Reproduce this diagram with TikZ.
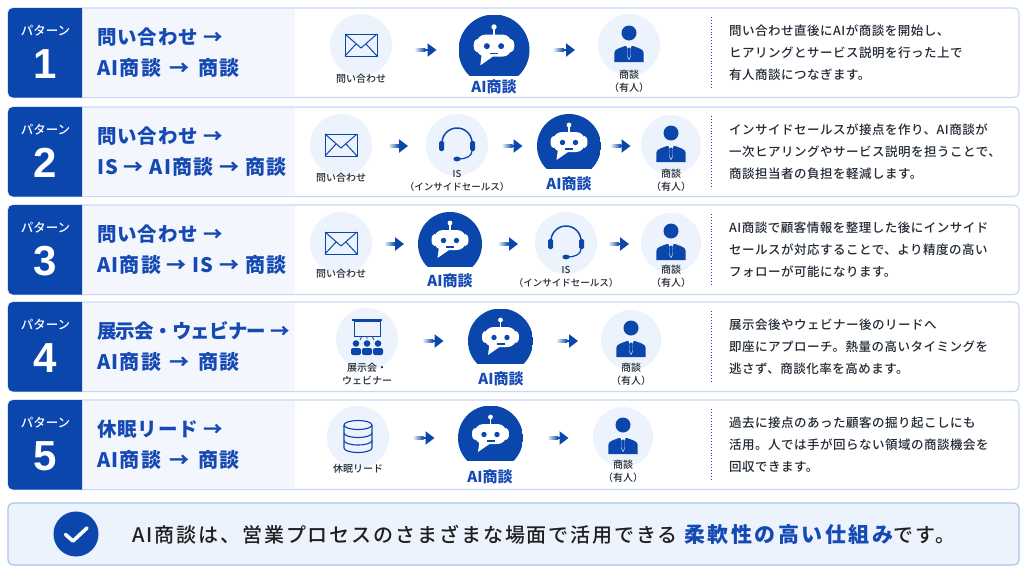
\documentclass[tikz,border=0pt]{standalone}
\usepackage{fontspec}
\setmainfont{Noto Sans CJK JP}
\newfontfamily\medfont{Noto Sans CJK JP Medium}
\newfontfamily\numfont{Liberation Sans}
\usetikzlibrary{arrows.meta}
\definecolor{tabblue}{HTML}{0A46AC}
\definecolor{titleblue}{HTML}{1549B3}
\definecolor{iconfill}{HTML}{EDF3FC}
\definecolor{zonefill}{HTML}{F3F7FD}
\definecolor{edgeblue}{HTML}{C6DAF6}
\definecolor{inkgray}{HTML}{222A35}
\newcommand{\fsize}[2]{\fontsize{#1}{#2}\selectfont}
\newcommand{\arrowgap}{\hspace{3pt}}
\tikzset{
  panel/.style={draw=edgeblue, fill=white, line width=1.2, rounded corners=5},
  iconbg/.style={circle, fill=iconfill, minimum size=62, inner sep=0, outer sep=0},
  botdisc/.style={circle, minimum size=#1, inner sep=0, outer sep=0, path picture={
    \fill[tabblue] (path picture bounding box.north west) rectangle ([yshift=-#1*0.36]path picture bounding box.east);}},
  flow/.style={line width=2.4, tabblue, -{Triangle[length=9,width=13]}, shorten <=#1, shorten >=#1},
  tailfade/.style={rectangle, left color=white, right color=tabblue, minimum width=11, minimum height=3, inner sep=0, outer sep=0, anchor=east},
  tabhead/.style={white, font=\fsize{12.5}{14}\medfont},
  tabnum/.style={white, font=\numfont\fsize{42}{44}\bfseries},
  titletext/.style={titleblue, anchor=west, inner sep=0, font=\fsize{19.5}{22}\bfseries\addfontfeature{LetterSpace=4}},
  routetext/.style={titletext, font=\fsize{20}{22}\bfseries\addfontfeature{LetterSpace=6}},
  desctext/.style={inkgray, anchor=west, inner sep=0, font=\medfont\fsize{12.5}{15}\addfontfeature{LetterSpace=4}},
  iconlabel/.style={inkgray, align=center, font=\medfont\fsize{10}{13}},
  botlabel/.style={titleblue, font=\fsize{15}{18}\bfseries},
  pics/mailicon/.style={code={
    \draw[tabblue, line width=1, line join=round] (-16,-11) rectangle (16,11);
    \draw[tabblue, line width=1, line join=round] (-16,-11) -- (0,3) -- (16,-11);
    \draw[tabblue, line width=1] (-16,11) -- (-5,-1) (16,11) -- (5,-1);
  }},
  pics/manicon/.style={code={
    \fill[tabblue] (0,-12) circle [radius=7.5];
    \fill[tabblue] (-14.7,17) -- (-14.7,8) .. controls (-14.7,4) and (-9,3) .. (-4,1) -- (4,1) .. controls (9,3) and (14.7,4) .. (14.7,8) -- (14.7,17) -- cycle;
    \fill[white] (-2.6,1) -- (2.6,1) -- (1.2,4) -- (1.6,12) -- (0,15) -- (-1.6,12) -- (-1.2,4) -- cycle;
    \fill[tabblue] (-1.1,2.5) -- (1.1,2.5) -- (1.4,11) -- (0,14) -- (-1.4,11) -- cycle;
  }},
  pics/headseticon/.style={code={
    \draw[tabblue, line width=1.5] (-15,-2) arc [start angle=180, end angle=360, radius=15];
    \fill[tabblue, rounded corners=1.5] (-18,-4) rectangle (-13,6);
    \fill[tabblue, rounded corners=1.5] (13,-4) rectangle (18,6);
    \draw[tabblue, line width=1.2] (15,6) .. controls (15,11) and (9,14) .. (2,14);
    \fill[tabblue] (0,14) ellipse [x radius=3.6, y radius=2.4];
  }},
  pics/booticon/.style={code={
    \fill[white] (-15.5,-4) ellipse [x radius=3, y radius=6];
    \fill[white] (15.5,-4) ellipse [x radius=3, y radius=6];
    \fill[white, rounded corners=9] (-16,-14) rectangle (16,6);
    \fill[white] (-11,3) -- (-12.5,14) -- (-1,6) -- cycle;
    \draw[white, line width=1.2] (0,-21) -- (0,-13);
    \fill[white] (0,-21) circle [radius=2.4];
    \fill[tabblue] (-6.5,-3.5) circle [radius=2.7];
    \fill[tabblue] (6.5,-3.5) circle [radius=2.7];
    \draw[tabblue, line width=1.2] (-4,3) -- (4,3);
  }},
  pics/dbicon/.style={code={
    \draw[tabblue, line width=1.1] (-14,-12) -- (-14,11) arc [start angle=180, end angle=0, x radius=14, y radius=4.5] -- (14,-12);
    \draw[tabblue, line width=1.1] (0,-12) ellipse [x radius=14, y radius=4.5];
    \draw[tabblue, line width=1.1] (-14,-4) arc [start angle=180, end angle=0, x radius=14, y radius=4.5];
    \draw[tabblue, line width=1.1] (-14,3.5) arc [start angle=180, end angle=0, x radius=14, y radius=4.5];
  }},
  pics/showicon/.style={code={
    \draw[tabblue, line width=1] (-13,-18) rectangle (13,-3);
    \fill[tabblue] (-15,-20) rectangle (15,-18);
    \draw[tabblue, line width=.8] (0,-3) -- (0,0) (-5,-3) -- (-7,1) (5,-3) -- (7,1);
    \foreach \px in {-11,0,11} {
      \fill[tabblue] (\px,4.5) circle [radius=3.3];
      \fill[tabblue, rounded corners=2] (\px-5,9) rectangle (\px+5,16);
    }
  }},
}
\begin{document}
\begin{tikzpicture}[x=1pt,y=-1pt]
\useasboundingbox (0,0) rectangle (1024,576);
\fill[white] (0,0) rectangle (1024,576);
% panels
\foreach \ytop/\num/\ta/\tb/\da/\db/\dc in {
  8/1/{問い合わせ →}/{AI商談\arrowgap{} → \arrowgap{}商談}/{問い合わせ直後にAIが商談を開始し、}/{ヒアリングとサービス説明を行った上で}/{有人商談につなぎます。},
  107/2/{問い合わせ →}/{IS → AI商談 → 商談}/{インサイドセールスが接点を作り、AI商談が}/{一次ヒアリングやサービス説明を担うことで、}/{商談担当者の負担を軽減します。},
  205/3/{問い合わせ →}/{AI商談 → IS → 商談}/{AI商談で顧客情報を整理した後にインサイド}/{セールスが対応することで、より精度の高い}/{フォローが可能になります。},
  302/4/{\addfontfeature{LetterSpace=-4}展示会・ウェビナー →}/{AI商談\arrowgap{} → \arrowgap{}商談}/{展示会後やウェビナー後のリードへ}/{即座にアプローチ。熱量の高いタイミングを}/{逃さず、商談化率を高めます。},
  400/5/{休眠リード →}/{AI商談\arrowgap{} → \arrowgap{}商談}/{過去に接点のあった顧客の掘り起こしにも}/{活用。人では手が回らない領域の商談機会を}/{回収できます。}} {
  \draw[panel] (8,\ytop) rectangle (1019,\ytop+89.5);
  \fill[zonefill] (82,\ytop+0.6) rectangle (295,\ytop+88.9);
  \fill[tabblue] (82,\ytop) [rounded corners=5] -- (8,\ytop) -- (8,\ytop+89.5) [sharp corners] -- (82,\ytop+89.5) -- cycle;
  \draw[tabblue, line width=.9, dotted] (711,\ytop+9) -- (711,\ytop+81);
  \node[tabhead] (head\num) at (45.5,\ytop+23) {パターン};
  \node[tabnum] (num\num) at (45,\ytop+56) {\num};
  \node[titletext] (ta\num) at (97,\ytop+29) {\ta};
  \node[routetext] (tb\num) at (97,\ytop+59.5) {\tb};
  \node[desctext] (da\num) at (729,\ytop+23) {\da};
  \node[desctext] (db\num) at (729,\ytop+45) {\db};
  \node[desctext] (dc\num) at (729,\ytop+67) {\dc};
}
% row 1
\node[iconbg] (mail1) at (361,45) {};
\node[botdisc=71] (bot1) at (494,50) {};
\node[iconbg] (man1) at (629,45) {};
\pic at (mail1) {mailicon};
\pic[scale=1.1] at (bot1) {booticon};
\pic at (man1) {manicon};
\node[iconlabel] (mail1l) at (361,79) {問い合わせ};
\node[botlabel] (bot1l) at (494,87) {AI商談};
\node[iconlabel] (man1l) at (629,81.5) {商談\\（有人）};
\draw[flow=22] (mail1.east |- bot1) -- node[tailfade] (fade1a) {} (bot1.west);
\draw[flow=23] (bot1.east) -- node[tailfade] (fade1b) {} (man1.west |- bot1);
% row 2
\node[iconbg] (mail2) at (341,145) {};
\node[iconbg] (set2) at (457,145) {};
\node[botdisc=64] (bot2) at (569,146) {};
\node[iconbg, minimum size=60] (man2) at (671,145) {};
\pic at (mail2) {mailicon};
\pic at (set2) {headseticon};
\pic at (bot2) {booticon};
\pic at (man2) {manicon};
\node[iconlabel] (mail2l) at (341,178) {問い合わせ};
\node[iconlabel, font=\medfont\fsize{9.5}{13}] (set2l) at (457,180.5) {IS\\（インサイドセールス）};
\node[botlabel] (bot2l) at (569,184) {AI商談};
\node[iconlabel] (man2l) at (671,180.5) {商談\\（有人）};
\draw[flow=18] (mail2.east |- bot2) -- node[tailfade] (fade2a) {} (set2.west |- bot2);
\draw[flow=14.5] (set2.east |- bot2) -- node[tailfade] (fade2b) {} (bot2.west);
\draw[flow=10.5] (bot2.east) -- node[tailfade] (fade2c) {} (man2.west |- bot2);
% row 3
\node[iconbg] (mail3) at (341,243) {};
\node[botdisc=64] (bot3) at (450,244) {};
\node[iconbg] (set3) at (566,243) {};
\node[iconbg, minimum size=60] (man3) at (671,243) {};
\pic at (mail3) {mailicon};
\pic at (bot3) {booticon};
\pic at (set3) {headseticon};
\pic at (man3) {manicon};
\node[iconlabel] (mail3l) at (341,274) {問い合わせ};
\node[botlabel] (bot3l) at (450,281) {AI商談};
\node[iconlabel, font=\medfont\fsize{9.5}{13}] (set3l) at (566,276.5) {IS\\（インサイドセールス）};
\node[iconlabel] (man3l) at (671,276.5) {商談\\（有人）};
\draw[flow=14] (mail3.east |- bot3) -- node[tailfade] (fade3a) {} (bot3.west);
\draw[flow=17] (bot3.east) -- node[tailfade] (fade3b) {} (set3.west |- bot3);
\draw[flow=12] (set3.east |- bot3) -- node[tailfade] (fade3c) {} (man3.west |- bot3);
% row 4
\node[iconbg] (show4) at (367,339) {};
\node[botdisc=65] (bot4) at (500.5,341) {};
\node[iconbg, minimum size=60] (man4) at (631,340) {};
\pic at (show4) {showicon};
\pic at (bot4) {booticon};
\pic at (man4) {manicon};
\node[iconlabel] (show4l) at (367,374.5) {展示会・\\ウェビナー};
\node[botlabel] (bot4l) at (501,379) {AI商談};
\node[iconlabel] (man4l) at (631,374.5) {商談\\（有人）};
\draw[flow=24.5] (show4.east |- bot4) -- node[tailfade] (fade4a) {} (bot4.west);
\draw[flow=23] (bot4.east) -- node[tailfade] (fade4b) {} (man4.west |- bot4);
% row 5
\node[iconbg] (db5) at (358,437) {};
\node[botdisc=65] (bot5) at (490.5,438) {};
\node[iconbg, minimum size=60] (man5) at (623,437) {};
\pic at (db5) {dbicon};
\pic at (bot5) {booticon};
\pic at (man5) {manicon};
\node[iconlabel] (db5l) at (358,469) {休眠リード};
\node[botlabel] (bot5l) at (490,477) {AI商談};
\node[iconlabel] (man5l) at (623,471.5) {商談\\（有人）};
\draw[flow=23.5] (db5.east |- bot5) -- node[tailfade] (fade5a) {} (bot5.west);
\draw[flow=24.5] (bot5.east) -- node[tailfade] (fade5b) {} (man5.west |- bot5);
% bottom bar
\draw[draw=edgeblue!85!tabblue, fill=iconfill, line width=1.2, rounded corners=5] (8,503) rectangle (1019,565);
\node[circle, fill=tabblue, minimum size=45, inner sep=0] (tick) at (76,534) {};
\draw[white, line width=3.6, line cap=round, line join=round] (65.5,534.5) -- (73,541) -- (87,528);
\node[anchor=west, inner sep=0, text=black!88, font=\medfont\fsize{20}{24}\addfontfeature{LetterSpace=9.5}] (summary) at (132,534)
  {AI商談は、営業プロセスのさまざまな場面で活用できる {\color{titleblue}\normalfont\fsize{21}{24}\bfseries\addfontfeature{LetterSpace=12}柔軟性の高い仕組み}です。};
\end{tikzpicture}
\end{document}
